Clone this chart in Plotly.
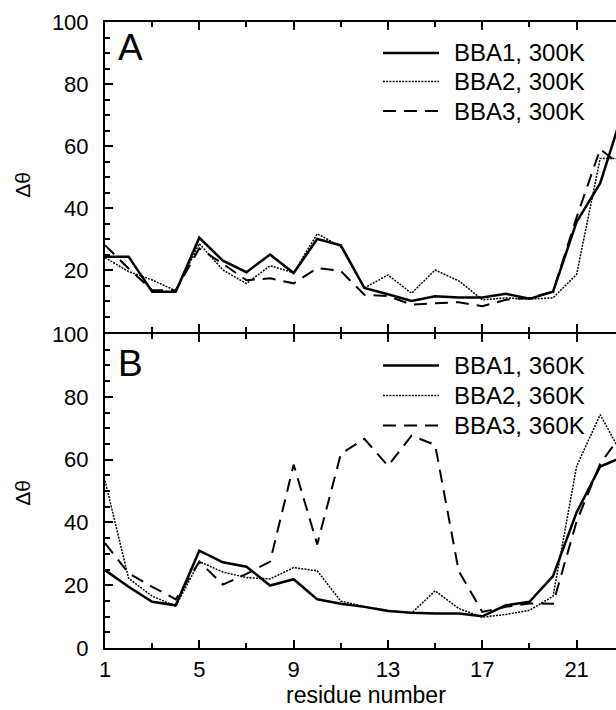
import plotly.graph_objects as go
from plotly.subplots import make_subplots

residues = list(range(1, 24))

bba1_300 = [24.3, 24.3, 13.0, 13.0, 30.4, 23.0, 19.3, 25.0, 19.0, 30.0, 28.0, 14.2, 12.2, 10.0, 11.5, 11.1, 11.1, 12.3, 10.7, 13.0, 35.5, 48.0, 72.0]
bba2_300 = [24.0, 19.5, 16.8, 13.3, 28.5, 20.0, 15.6, 21.4, 19.1, 31.7, 27.5, 14.2, 18.4, 12.5, 20.0, 16.5, 10.4, 11.0, 10.6, 11.0, 18.6, 56.0, 56.0]
bba3_300 = [28.0, 20.5, 13.5, 13.5, 27.0, 22.0, 16.7, 17.3, 15.7, 20.6, 19.7, 12.0, 11.6, 8.8, 9.3, 9.6, 8.3, 10.4, 11.0, 13.0, 37.0, 59.0, 53.0]

bba1_360 = [24.8, 19.5, 14.7, 13.6, 31.0, 27.3, 25.9, 19.9, 21.9, 15.5, 14.1, 13.1, 11.8, 11.2, 11.0, 11.0, 10.1, 13.6, 14.7, 22.9, 43.2, 57.8, 61.0]
bba2_360 = [53.3, 22.2, 16.5, 13.3, 27.5, 24.2, 22.4, 22.0, 25.6, 24.6, 14.9, 13.2, 12.0, 11.1, 18.2, 12.6, 9.8, 10.7, 12.0, 16.5, 57.9, 74.3, 60.5]
bba3_360 = [33.4, 23.8, 19.5, 15.5, 27.5, 20.2, 23.6, 27.5, 58.4, 33.0, 61.8, 66.6, 58.0, 67.6, 64.7, 24.5, 11.5, 13.1, 14.2, 14.1, 40.3, 58.7, 69.0]

labels_300 = ["BBA1, 300K", "BBA2, 300K", "BBA3, 300K"]
labels_360 = ["BBA1, 360K", "BBA2, 360K", "BBA3, 360K"]
panel_letters = ["A", "B"]
x_tick0, x_dtick = 1, 4
y_ticks_a = [20, 40, 60, 80, 100]
y_ticks_b = [0, 20, 40, 60, 80, 100]
x_title = "residue number"
y_title = "Δθ"

FONT = "Liberation Sans, Arial, Helvetica, sans-serif"
styles = [
    dict(color="black", width=2.5, dash="solid"),
    dict(color="black", width=1.5, dash="2px,1.2px"),
    dict(color="black", width=2.0, dash="13px,8px"),
]

fig = make_subplots(rows=2, cols=1, vertical_spacing=0)

for row, series, labels in [(1, [bba1_300, bba2_300, bba3_300], labels_300),
                            (2, [bba1_360, bba2_360, bba3_360], labels_360)]:
    for s, lab, st in zip(series, labels, styles):
        fig.add_trace(go.Scatter(x=residues, y=s, mode="lines", name=lab,
                                 line=st, showlegend=False, hoverinfo="skip"),
                      row=row, col=1)

W, H = 616, 710
ml, mr, mt, mb = 105, 0, 22, 62
ph = H - mt - mb
split = 314 / ph

axis_common = dict(
    showline=True, linecolor="black", linewidth=2, ticks="inside",
    tickcolor="black", tickwidth=2, ticklen=8, showgrid=False, zeroline=False,
    tickfont=dict(family=FONT, size=22, color="black"),
)
xcommon = dict(axis_common, range=[1, 22.67], tickmode="linear", tick0=x_tick0, dtick=x_dtick,
               mirror="ticks", ticklabelstandoff=1,
               minor=dict(ticks="inside", tick0=1, dtick=2, ticklen=5, tickwidth=1.5, tickcolor="black"))
ycommon = dict(axis_common, range=[0, 100], mirror=False, ticklabelstandoff=10,
               minor=dict(ticks="inside", tick0=0, dtick=5, ticklen=5, tickwidth=1.5, tickcolor="black"))

fig.update_layout(
    xaxis=dict(xcommon, showticklabels=False),
    xaxis2=dict(xcommon),
    yaxis=dict(ycommon, domain=[split + 2.0 / ph, 1], tickmode="array", tickvals=y_ticks_a),
    yaxis2=dict(ycommon, domain=[0, split], tickmode="array", tickvals=y_ticks_b),
)

pw = W - ml - mr
def dx(px):
    return (px - ml) / pw

panels = [("x domain", "y domain", 332, 310, labels_300, panel_letters[0], [53, 81.5, 111], 47, 185),
          ("x2 domain", "y2 domain", 648, 314, labels_360, panel_letters[1], [365.5, 395.5, 425.5], 363.5, 493)]
annotations = []
shapes = []
for xr, yr, bottom, height, labels, letter, rows_px, letter_px, title_px in panels:
    def dy(px):
        return (bottom - px) / height
    annotations.append(dict(text=letter, xref=xr, yref=yr, x=dx(115.5), y=dy(letter_px),
                            xanchor="left", yanchor="middle", showarrow=False,
                            font=dict(family=FONT, size=37, color="black")))
    annotations.append(dict(text=y_title, xref=xr, yref=yr, x=dx(21.7), y=dy(title_px),
                            xanchor="center", yanchor="middle", showarrow=False, textangle=-90,
                            font=dict(family=FONT, size=21, color="black")))
    for lab, st, ry in zip(labels, styles, rows_px):
        shapes.append(dict(type="line", xref=xr, yref=yr, x0=dx(383), x1=dx(439),
                           y0=dy(ry), y1=dy(ry), line=st))
        annotations.append(dict(text=lab, xref=xr, yref=yr, x=dx(452), y=dy(ry),
                                xanchor="left", yanchor="middle", showarrow=False,
                                font=dict(family=FONT, size=24, color="black")))

annotations.append(dict(text=x_title, xref="x2 domain", yref="y2 domain", x=dx(366),
                        y=(648 - 709) / 314, xanchor="center", yanchor="bottom", showarrow=False,
                        borderpad=0, font=dict(family=FONT, size=23, color="black")))

fig.update_layout(
    width=W, height=H, margin=dict(l=ml, r=mr, t=mt, b=mb),
    plot_bgcolor="white", paper_bgcolor="white",
    annotations=annotations, shapes=shapes, showlegend=False,
)

fig.write_html("out.html")
